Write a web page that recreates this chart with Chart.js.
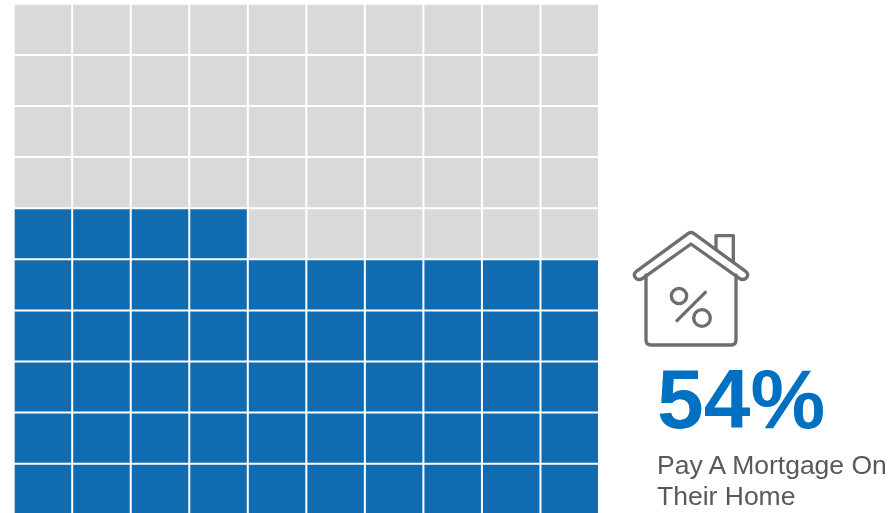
<!DOCTYPE html>
<html><head><meta charset="utf-8">
<script src="https://cdn.jsdelivr.net/npm/chart.js@4"></script>
<style>
html,body{margin:0;padding:0;background:#fff;width:892px;height:513px;overflow:hidden}
#c{position:absolute;left:0;top:0}
.t{position:absolute;font-family:"Liberation Sans",Arial,sans-serif;white-space:nowrap;line-height:1}
#big{left:657px;top:357px;font-size:84px;font-weight:bold;color:#0070c0}
.lab{left:657px;font-size:26.5px;color:#595959}
svg{position:absolute;left:620px;top:220px}
</style></head><body>
<canvas id="c" width="892" height="520" style="width:892px;height:520px"></canvas>
<svg width="272" height="293" viewBox="0 0 816 879" fill="none" stroke="#6d6e71" stroke-width="10" stroke-linejoin="round" stroke-linecap="round">
<path d="M205,40 Q213,35 221,40 L378,155 Q388,165 378,175 Q368,182 358,175 L213,72 L68,175 Q58,182 48,175 Q38,165 48,155 Z"/>
<path d="M78,165 V360 Q78,375 93,375 H333 Q348,375 348,360 V165"/>
<path d="M288,85 V47 H340 V125"/>
<circle cx="177" cy="228" r="23"/><circle cx="246" cy="294" r="25"/>
<path d="M256,217 L171,302"/>
</svg>
<div class="t" id="big">54%</div>
<div class="t lab" style="top:452px">Pay A Mortgage On</div>
<div class="t lab" style="top:483px">Their Home</div>
<script>
const columns = ['1','2','3','4','5','6','7','8','9','10'];
const rows = [1,2,3,4,5,6,7,8,9,10];
const cellValue = [1,1,1,1,1,1,1,1,1,1];
const filledPerColumn = [6,6,6,6,5,5,5,5,5,5];
const filledColor = '#116bb0';
const emptyColor = '#d9d9d9';
new Chart(document.getElementById('c'), {
  type: 'bar',
  data: {
    labels: columns,
    datasets: rows.map(r => ({
      label: 'Row ' + r,
      data: cellValue,
      backgroundColor: filledPerColumn.map(n => r <= n ? filledColor : emptyColor),
      borderColor: '#ffffff',
      borderWidth: 1,
      borderSkipped: false,
      inflateAmount: 0,
      categoryPercentage: 1,
      barPercentage: 1
    }))
  },
  options: {
    responsive: false,
    animation: false,
    layout: { padding: { left: 13.67, right: 293, top: 3.8, bottom: 5.2 } },
    plugins: { legend: { display: false }, tooltip: { enabled: false } },
    scales: {
      x: { stacked: true, display: false },
      y: { stacked: true, display: false, min: 0, max: 10 }
    }
  }
});
</script>
</body></html>
